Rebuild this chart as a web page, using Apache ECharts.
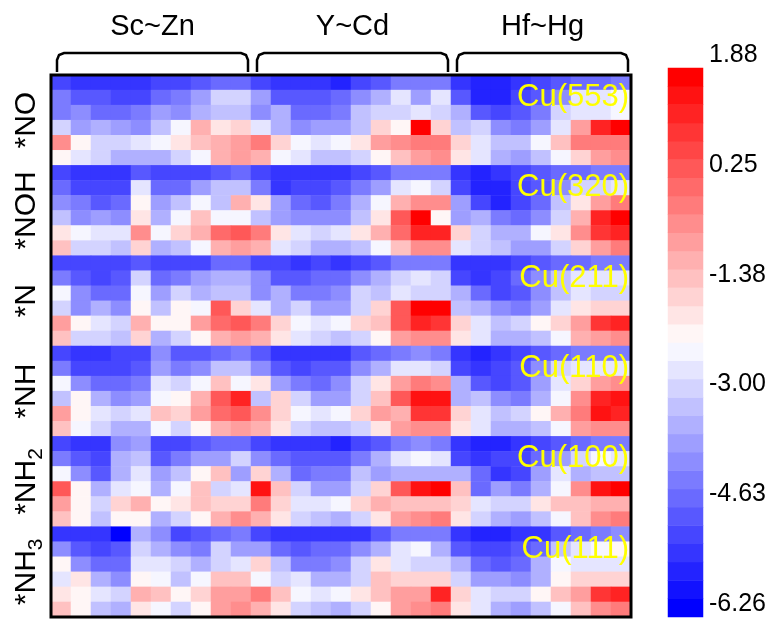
<!DOCTYPE html>
<html><head><meta charset="utf-8">
<script src="https://cdn.jsdelivr.net/npm/echarts@6/dist/echarts.min.js"></script>
<style>html,body{margin:0;padding:0;background:#fff}#c{width:772px;height:619px}</style>
</head><body><div id="c"></div>
<script>
// ---------- data ----------
const elements = ['Sc','Ti','V','Cr','Mn','Fe','Co','Ni','Cu','Zn','Y','Zr','Nb','Mo','Tc','Ru','Rh','Pd','Ag','Cd','Hf','Ta','W','Re','Os','Ir','Pt','Au','Hg'];
const groupLabels = ['Sc~Zn','Y~Cd','Hf~Hg'];
const groupStart = [0, 10, 20];
const groupEnd = [9, 19, 28];
const adsorbates = ['*NO','*NOH','*N','*NH','*NH2','*NH3'];
const facets = ['Cu(553)','Cu(320)','Cu(211)','Cu(110)','Cu(100)','Cu(111)'];
const colorbarTicks = [1.88, 0.25, -1.38, -3.00, -4.63, -6.26];
const vMin = -6.26, vMax = 1.88, nLevels = 30;

const valsNO = [
[-5.0,-5.3,-5.3,-5.3,-5.3,-5.0,-5.0,-4.8,-4.5,-4.5, -5.0,-5.3,-5.3,-5.3,-5.6,-5.0,-4.8,-4.2,-4.2,-4.2, -5.3,-5.6,-5.6,-5.3,-5.0,-4.8,-4.5,-4.5,-4.2],
[-4.2,-4.8,-4.8,-5.0,-5.0,-4.5,-4.2,-3.7,-2.9,-2.9, -3.7,-4.8,-4.8,-4.8,-4.5,-4.0,-3.4,-2.6,-3.7,-2.6, -4.8,-5.6,-5.6,-5.0,-4.8,-4.0,-2.6,-2.6,-2.3],
[-4.2,-4.0,-4.5,-4.5,-4.2,-3.7,-4.0,-3.4,-3.1,-3.1, -4.0,-3.4,-4.5,-4.5,-4.2,-3.1,-2.9,-2.9,-2.6,-2.9, -3.4,-4.8,-5.0,-4.8,-4.2,-2.9,-2.6,-2.6,-2.3],
[-2.9,-3.7,-3.4,-3.7,-4.0,-3.1,-2.3,-1.0,-1.8,-1.5, -2.6,-3.4,-4.0,-3.7,-3.7,-3.1,-1.5,-2.1,1.7,-1.5, -3.1,-2.9,-4.0,-4.2,-3.7,-2.6,-0.7,1.2,1.7],
[-0.4,-2.1,-2.9,-2.9,-2.6,-2.3,-1.8,-1.2,-1.0,-0.7, -0.2,-1.5,-2.3,-2.6,-2.3,-1.8,-0.7,-0.4,-0.2,-0.2, -1.5,-2.6,-3.1,-3.1,-2.3,-1.2,-0.2,-0.2,-0.2],
[-2.1,-2.6,-2.9,-3.4,-3.4,-3.4,-2.9,-2.3,-1.0,-0.7, -1.0,-2.3,-2.6,-3.1,-3.1,-2.9,-2.1,-1.2,-0.7,-0.4, -1.8,-2.6,-3.4,-3.7,-3.1,-2.3,-1.5,-0.7,-0.4]
];
const valsNOH = [
[-5.0,-5.3,-5.3,-5.3,-4.8,-5.0,-5.0,-5.0,-4.8,-4.5, -5.0,-5.3,-5.3,-5.3,-5.3,-5.0,-4.8,-4.2,-4.2,-4.2, -5.3,-5.6,-5.3,-5.0,-4.8,-4.5,-4.5,-4.2,-4.2],
[-4.5,-5.0,-5.0,-5.0,-2.6,-4.5,-4.5,-3.7,-3.1,-3.1, -4.2,-5.3,-5.0,-5.0,-4.8,-4.2,-3.7,-2.6,-2.3,-2.9, -5.0,-5.6,-5.6,-5.0,-4.8,-4.0,-2.9,-2.9,-2.6],
[-4.0,-4.2,-4.8,-4.5,-2.1,-3.7,-3.1,-2.3,-3.1,-1.0, -1.8,-3.7,-4.5,-4.8,-4.2,-3.4,-2.3,-1.0,-0.4,-0.4, -3.7,-5.0,-5.6,-5.0,-4.5,-3.1,-1.8,-0.7,-0.2],
[-3.1,-4.0,-3.7,-4.0,-1.8,-3.4,-2.3,-1.2,-2.3,-2.3, -3.1,-3.7,-4.0,-4.0,-4.0,-3.1,-1.8,0.4,1.7,-2.1, -3.7,-3.4,-4.2,-4.5,-4.0,-2.9,-1.0,1.2,1.7],
[-1.8,-2.3,-2.6,-2.6,-0.4,-2.3,-1.5,-1.0,0.1,0.4, -0.2,-1.8,-2.6,-2.9,-2.6,-1.8,-1.0,0.1,1.2,1.2, -1.5,-2.9,-3.4,-3.4,-2.3,-1.8,-0.4,0.9,1.2],
[-1.2,-2.9,-2.9,-3.1,-1.5,-3.4,-3.1,-2.3,-1.0,-0.7, -1.0,-2.6,-2.9,-3.4,-3.4,-3.1,-2.3,-1.2,-0.4,-0.4, -2.6,-2.9,-3.1,-3.7,-3.7,-2.9,-1.5,-0.7,-0.2]
];
const valsN = [
[-5.0,-5.0,-5.0,-5.0,-4.8,-5.0,-5.0,-5.0,-4.5,-4.5, -5.0,-5.0,-5.3,-5.0,-5.3,-5.0,-4.8,-4.2,-4.2,-4.2, -5.3,-5.3,-5.3,-5.0,-4.8,-4.5,-4.5,-4.2,-4.2],
[-4.2,-4.8,-5.0,-4.8,-2.9,-4.5,-4.2,-3.7,-3.4,-3.4, -4.0,-4.8,-4.8,-4.5,-4.5,-4.0,-3.4,-2.9,-2.6,-2.9, -5.0,-5.3,-5.0,-4.5,-4.0,-3.1,-2.6,-2.6,-2.6],
[-2.3,-4.0,-4.5,-4.5,-2.3,-3.7,-2.9,-3.4,-3.1,-3.1, -4.0,-3.4,-4.2,-4.2,-4.0,-2.9,-3.1,-2.6,-2.9,-2.9, -3.4,-4.5,-5.0,-4.8,-4.0,-3.1,-2.6,-2.9,-2.9],
[-2.9,-4.0,-3.4,-4.0,-2.1,-3.1,-2.1,-2.3,0.4,-1.5, -2.6,-3.4,-2.9,-3.7,-3.7,-2.9,-1.5,0.4,1.7,1.7, -3.1,-3.4,-4.0,-4.2,-3.7,-2.6,-1.8,-1.5,-1.5],
[-0.7,-2.1,-2.6,-2.9,-1.0,-2.1,-2.1,-0.7,0.1,0.4, -0.2,-1.5,-2.3,-2.6,-2.3,-1.5,-1.2,0.4,1.2,0.9, -1.5,-2.6,-3.1,-2.9,-2.1,-1.5,-0.7,0.9,1.2],
[-1.2,-2.9,-2.9,-3.1,-1.5,-3.4,-2.9,-2.1,-1.0,-0.7, -1.0,-1.8,-2.6,-2.9,-3.1,-2.9,-2.1,-0.7,-0.4,-0.4, -1.8,-2.6,-3.4,-3.4,-3.1,-2.3,-1.0,-0.7,-0.4]
];
const valsNH = [
[-5.0,-5.3,-5.3,-5.0,-5.0,-4.0,-4.8,-4.8,-4.5,-4.2, -4.8,-5.3,-5.3,-5.3,-5.3,-4.8,-4.5,-4.2,-4.0,-4.2, -5.3,-5.6,-5.3,-5.0,-4.8,-4.5,-4.2,-4.2,-4.2],
[-4.2,-5.0,-5.0,-5.0,-4.8,-3.7,-4.2,-4.0,-3.1,-3.1, -4.0,-4.8,-5.0,-4.8,-4.8,-4.0,-3.4,-2.6,-2.6,-2.9, -5.0,-5.3,-5.0,-4.8,-4.0,-2.9,-2.6,-2.6,-2.6],
[-2.3,-4.0,-4.5,-4.5,-4.2,-2.6,-2.9,-2.3,-1.2,-2.3, -1.8,-3.7,-4.2,-4.5,-4.0,-2.9,-1.8,-0.7,-0.2,-0.4, -3.4,-4.8,-5.0,-4.8,-3.7,-2.6,-1.5,-0.7,-0.4],
[-3.1,-2.1,-3.4,-4.0,-3.7,-2.3,-2.1,-1.0,0.4,1.2, -3.1,-1.5,-2.9,-3.7,-3.7,-2.9,-1.2,0.4,1.5,1.5, -3.4,-3.1,-4.0,-4.2,-3.4,-2.3,-0.4,1.2,1.5],
[-0.7,-2.1,-2.6,-2.9,-2.6,-1.2,-1.5,-0.7,0.1,0.4, -0.4,-1.5,-2.3,-2.6,-2.3,-1.5,-0.7,-1.0,0.9,0.9, -1.5,-2.6,-3.1,-2.9,-2.1,-1.0,-0.2,1.5,1.2],
[-1.2,-2.3,-2.9,-3.4,-3.4,-2.3,-2.9,-2.1,-1.0,-0.7, -1.0,-1.8,-2.9,-3.1,-3.1,-2.9,-1.8,-0.7,-0.4,-0.4, -1.8,-2.6,-3.4,-3.4,-3.1,-2.3,-0.7,-0.4,-0.4]
];
const valsNH2 = [
[-5.0,-5.3,-5.3,-4.0,-3.7,-5.0,-5.0,-4.8,-4.5,-4.5, -5.0,-5.3,-5.3,-5.3,-5.6,-5.0,-4.8,-4.2,-4.0,-4.2, -5.3,-5.6,-5.6,-5.3,-5.0,-4.8,-4.5,-4.2,-4.2],
[-4.2,-4.8,-5.0,-3.4,-3.1,-4.8,-4.2,-3.7,-3.7,-2.9, -4.0,-4.5,-4.8,-4.8,-4.8,-4.2,-3.4,-2.6,-2.3,-2.6, -5.0,-5.3,-5.0,-5.0,-4.5,-3.7,-2.9,-2.3,-2.6],
[-2.3,-4.0,-4.8,-3.4,-2.6,-3.7,-3.1,-2.1,-1.2,-3.7, -1.5,-3.4,-4.5,-4.2,-4.2,-3.1,-3.7,-3.4,-3.4,-3.4, -3.4,-4.5,-5.3,-5.0,-3.7,-2.6,-3.4,-3.1,-3.1],
[0.4,-2.1,-3.4,-2.6,-2.3,-3.4,-2.3,-1.2,-2.9,-2.6, 1.5,-1.2,-2.9,-3.7,-3.7,-2.9,-1.5,0.4,1.5,1.7, -1.2,-4.5,-3.7,-4.2,-3.4,-2.3,-0.4,1.5,1.7],
[-0.7,-2.1,-2.9,-1.5,-1.0,-2.1,-1.8,-1.2,-1.5,-1.5, -0.2,-1.5,-2.6,-2.6,-2.3,-1.5,-1.0,-1.2,-1.2,-1.2, -1.5,-2.6,-2.9,-2.9,-1.8,-1.2,-1.2,-1.0,-1.0],
[-1.2,-2.1,-3.1,-2.1,-2.1,-3.4,-2.9,-2.1,-1.0,-0.4, -1.0,-1.8,-2.9,-3.1,-3.4,-2.9,-1.8,-0.7,-0.4,-0.2, -1.8,-2.9,-3.4,-3.7,-3.1,-2.3,-1.2,-0.4,-0.2]
];
const valsNH3 = [
[-5.3,-5.3,-5.3,-6.1,-3.4,-4.0,-5.0,-4.8,-4.5,-4.2, -5.0,-5.3,-5.3,-5.3,-5.3,-5.3,-4.8,-4.2,-4.2,-4.2, -5.3,-5.6,-5.6,-5.3,-5.3,-4.8,-4.5,-4.2,-4.0],
[-4.0,-4.8,-5.0,-4.8,-2.9,-3.4,-4.0,-4.2,-2.9,-3.7, -3.7,-4.5,-4.8,-4.5,-4.5,-4.0,-3.4,-2.6,-2.3,-3.4, -4.8,-5.0,-5.0,-4.8,-4.5,-3.1,-2.6,-2.3,-2.1],
[-2.1,-4.0,-4.5,-4.5,-2.6,-2.6,-2.9,-3.4,-2.9,-2.6, -1.5,-3.1,-4.2,-4.2,-4.0,-2.9,-1.8,-2.6,-2.9,-2.9, -3.4,-4.5,-4.8,-4.5,-3.4,-2.3,-2.6,-2.6,-2.6],
[-2.6,-1.8,-3.4,-4.0,-2.1,-2.3,-3.1,-2.3,-1.2,-1.2, -2.3,-2.9,-2.6,-3.4,-3.4,-2.9,-1.2,-1.5,-1.5,-1.5, -2.9,-3.7,-3.7,-4.0,-3.4,-2.1,-1.5,-1.5,-1.5],
[-1.8,-2.1,-2.6,-2.9,-1.0,-1.2,-2.1,-1.5,-0.7,-0.7, -0.2,-1.2,-2.3,-2.6,-2.3,-1.8,-1.2,-0.7,-0.7,1.2, -1.5,-2.6,-2.9,-2.9,-2.1,-1.2,-0.7,0.9,1.2],
[-1.2,-2.1,-3.1,-3.4,-1.8,-2.3,-2.9,-2.1,-0.7,-0.4, -1.0,-1.8,-2.9,-3.1,-3.4,-2.9,-2.1,-0.7,-0.4,-0.2, -1.8,-2.6,-3.4,-3.7,-3.1,-2.3,-1.2,-0.4,-0.2]
];

// ---------- build ----------
const FONT = 'Arial, "Liberation Sans", Helvetica, sans-serif';
const bands = [valsNO, valsNOH, valsN, valsNH, valsNH2, valsNH3];
const rowNames = [];
const cells = [];
bands.forEach((band, b) => band.forEach((row, r) => {
  const yi = rowNames.length;
  rowNames.push(adsorbates[b] + ' #' + (r + 1));
  row.forEach((v, xi) => cells.push([xi, yi, v]));
}));

const step = (vMax - vMin) / nLevels;
function levelColor(k) {
  const t = k / (nLevels - 1);
  let r, g, b;
  if (t <= 0.5) { const c = Math.round(510 * t); r = c; g = c; b = 255; }
  else { const c = Math.round(510 * (1 - t)); r = 255; g = c; b = c; }
  return 'rgb(' + r + ',' + g + ',' + b + ')';
}
const pieces = [];
const levelNames = [];
const cbCells = [];
for (let k = 0; k < nLevels; k++) {
  const lo = vMin + k * step, hi = lo + step;
  pieces.push({ gte: k === 0 ? -1e9 : lo, lt: k === nLevels - 1 ? 1e9 : hi, color: levelColor(k) });
  levelNames.push('L' + k);
  cbCells.push([0, k, lo + step / 2]);
}

const chart = echarts.init(document.getElementById('c'), null, { renderer: 'canvas' });
const option = {
  backgroundColor: '#fff',
  animation: false,
  textStyle: { fontFamily: FONT },
  grid: [
    { left: 51, top: 75, width: 580, height: 542, show: true, borderColor: '#000', borderWidth: 3, backgroundColor: 'transparent', z: 10 },
    { left: 668, top: 68, width: 35, height: 549 }
  ],
  visualMap: { type: 'piecewise', show: false, dimension: 2, seriesIndex: [0, 1], pieces: pieces },
  xAxis: [
    { type: 'category', data: elements, gridIndex: 0, show: false },
    { type: 'category', data: ['cb'], gridIndex: 1, show: false }
  ],
  yAxis: [
    { type: 'category', data: rowNames, inverse: true, gridIndex: 0, show: false },
    { type: 'category', data: adsorbates, inverse: true, gridIndex: 0, position: 'left',
      axisLine: { show: false }, axisTick: { show: false }, splitLine: { show: false },
      axisLabel: { interval: 0, rotate: 90, margin: 4, fontSize: 30, lineHeight: 40, color: '#000', fontFamily: FONT,
        formatter: v => v.replace(/(\d)/g, '{sub|$1}'),
        rich: { sub: { fontSize: 21, lineHeight: 20, verticalAlign: 'bottom', fontFamily: FONT, color: '#000' } } } },
    { type: 'category', data: rowNames, inverse: true, gridIndex: 0, position: 'right', z: 20,
      axisLine: { show: false }, axisTick: { show: false }, splitLine: { show: false },
      axisLabel: { inside: true, interval: 0, margin: 2, color: '#ffff00', fontSize: 31, fontFamily: FONT,
        padding: [0, 0, 9, 0],
        formatter: (v, i) => (i % 6 === 1 ? facets[Math.floor(i / 6)] : '') } },
    { type: 'category', data: levelNames, gridIndex: 1, show: false },
    { type: 'value', gridIndex: 1, min: vMin, max: vMax, position: 'right',
      axisLine: { show: false }, axisTick: { show: false }, splitLine: { show: false },
      axisLabel: { customValues: colorbarTicks, formatter: v => v.toFixed(2), fontSize: 25, margin: 6,
        color: '#000', fontFamily: FONT, verticalAlign: 'bottom', lineHeight: 26 } }
  ],
  series: [
    { type: 'heatmap', xAxisIndex: 0, yAxisIndex: 0, data: cells, progressive: 0 },
    { type: 'heatmap', xAxisIndex: 1, yAxisIndex: 3, data: cbCells, progressive: 0 }
  ]
};
chart.setOption(option);

// group brackets & labels above the map, positioned through the axes
function drawGroups() {
  const px = i => chart.convertToPixel({ xAxisIndex: 0 }, i);
  const py = i => chart.convertToPixel({ yAxisIndex: 0 }, i);
  const cw = px(1) - px(0);
  const top = py(0) - (py(1) - py(0)) / 2;
  const els = [];
  groupLabels.forEach((lab, g) => {
    const xl = px(groupStart[g]) - cw / 2 + 6;
    const xr = px(groupEnd[g]) + cw / 2 - 3;
    const yb = top - 3, yt = top - 22, r = 7;
    els.push({ type: 'polyline', silent: true, z: 20,
      shape: { points: [
        [xl, yb], [xl, yt + r], [xl + r * 0.29, yt + r * 0.29], [xl + r, yt],
        [xr - r, yt], [xr - r * 0.29, yt + r * 0.29], [xr, yt + r], [xr, yb]
      ] },
      style: { stroke: '#000', lineWidth: 2.5, fill: null } });
    els.push({ type: 'text', silent: true, z: 20, x: (xl + xr) / 2, y: top - 48,
      style: { text: lab, fill: '#000', font: '29px ' + FONT, textAlign: 'center', textVerticalAlign: 'middle' } });
  });
  chart.setOption({ graphic: { elements: els } });
}
drawGroups();
</script>
</body></html>
